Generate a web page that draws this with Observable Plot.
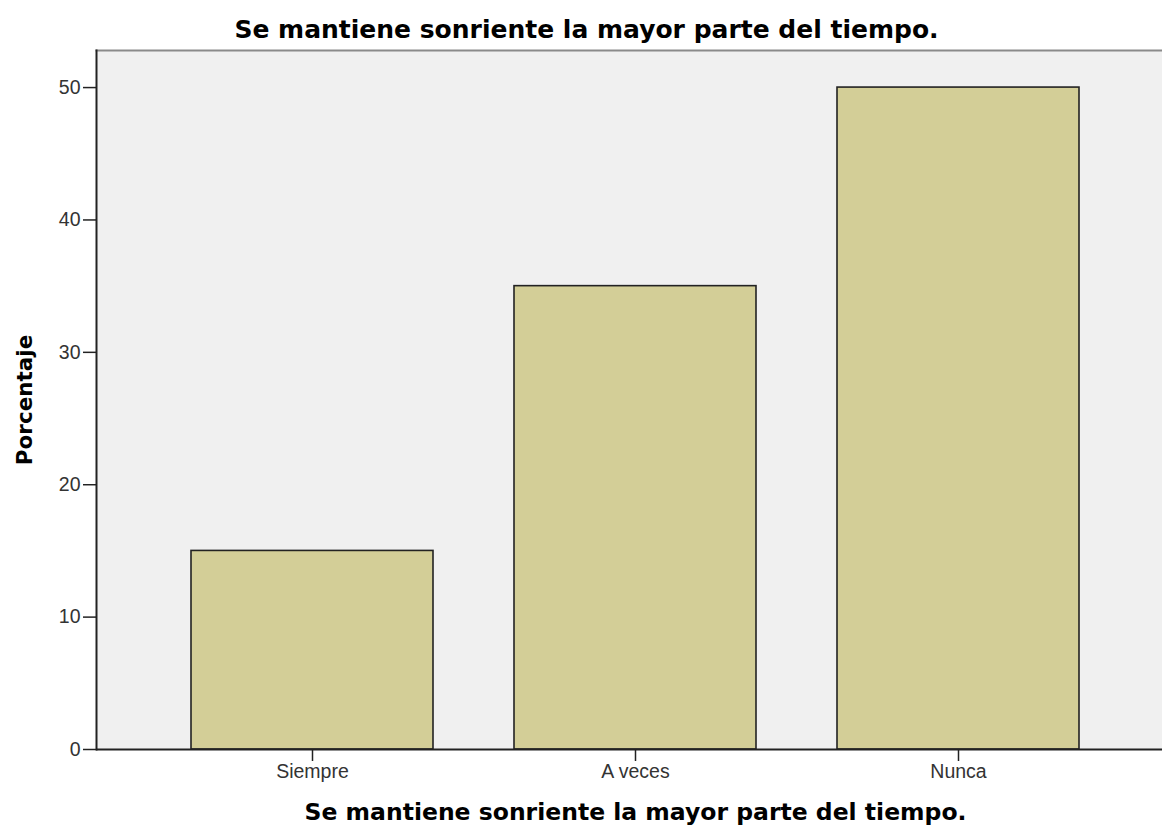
<!DOCTYPE html>
<html>
<head>
<meta charset="utf-8">
<script src="https://cdn.jsdelivr.net/npm/d3@7"></script>
<script src="https://cdn.jsdelivr.net/npm/@observablehq/plot@0.6"></script>
<style>
  html, body { margin: 0; padding: 0; background: #ffffff; }
  #chart { position: relative; width: 1162px; height: 828px; }
</style>
</head>
<body>
<div id="chart"></div>
<script>
const categories = ["Siempre", "A veces", "Nunca"];
const percentages = [15, 35, 50];
const yTicks = [0, 10, 20, 30, 40, 50];
const titleText = "Se mantiene sonriente la mayor parte del tiempo.";
const xLabelText = "Se mantiene sonriente la mayor parte del tiempo.";
const yLabelText = "Porcentaje";

const data = categories.map((c, i) => ({cat: c, pct: percentages[i]}));

const boldFont = "'DejaVu Sans', sans-serif";

const plot = Plot.plot({
  width: 1162,
  height: 828,
  marginLeft: 96,
  marginRight: -12,
  marginTop: 50,
  marginBottom: 79,
  style: {fontFamily: "'Liberation Sans', Arial, sans-serif", background: "#ffffff", overflow: "visible"},
  x: {type: "band", domain: categories, range: [96, 1174], paddingInner: 0.25, paddingOuter: 0.29},
  y: {domain: [0, 52.8]},
  marks: [
    Plot.frame({fill: "#f0f0f0", stroke: null}),
    Plot.frame({anchor: "top", stroke: "#8a8a8a", strokeWidth: 2}),
    Plot.barY(data, {x: "cat", y: "pct", fill: "#d3ce97", stroke: "#222222", strokeWidth: 1.6}),
    Plot.frame({anchor: "left", stroke: "#222222", strokeWidth: 2}),
    Plot.ruleY([0], {stroke: "#222222", strokeWidth: 2}),
    Plot.axisY({ticks: yTicks, tickSize: 13, tickPadding: 3, fontSize: 19.5, label: null, stroke: "#222222", strokeWidth: 1.5, color: "#333333"}),
    Plot.axisX({tickSize: 12, tickPadding: 3, fontSize: 19.5, label: null, stroke: "#222222", strokeWidth: 1.5, color: "#333333"}),
    Plot.text([yLabelText], {frameAnchor: "left", textAnchor: "middle", lineAnchor: "middle", rotate: -90, dx: -71, fontSize: 21.5, fontWeight: "bold", fontFamily: boldFont, fill: "#000000"}),
    Plot.text([xLabelText], {frameAnchor: "bottom", textAnchor: "middle", lineAnchor: "middle", dy: 63, fontSize: 23.5, fontWeight: "bold", fontFamily: boldFont, fill: "#000000"}),
    Plot.text([titleText], {frameAnchor: "top", textAnchor: "middle", lineAnchor: "middle", dx: -49, dy: -21, fontSize: 25, fontWeight: "bold", fontFamily: boldFont, fill: "#000000"})
  ]
});

document.getElementById("chart").appendChild(plot);
</script>
</body>
</html>
